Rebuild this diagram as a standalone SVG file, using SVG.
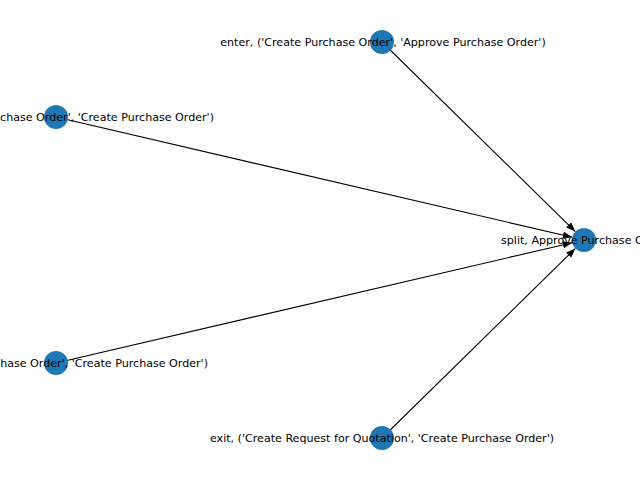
<svg xmlns="http://www.w3.org/2000/svg" width="640" height="480" viewBox="0 0 640 480">
<defs>
<style>
.edge{stroke:#000;stroke-width:1.1;fill:none;marker-end:url(#ah)}
.node{fill:#1f77b4}
.lbl{font-family:"DejaVu Sans",sans-serif;font-size:11.1px;fill:#000}
</style>
<marker id="ah" markerUnits="userSpaceOnUse" markerWidth="12" markerHeight="10" refX="9.5" refY="3.6" orient="auto">
<path d="M0,0 L9.5,3.6 L0,7.2 Z" fill="#000"/>
</marker>
</defs>
<rect width="640" height="480" fill="#fff"/>
<g id="edges">
<line class="edge" x1="382" y1="42" x2="575.4" y2="231.6"/>
<line class="edge" x1="56" y1="117" x2="572.3" y2="237.3"/>
<line class="edge" x1="56" y1="363" x2="572.3" y2="242.7"/>
<line class="edge" x1="382" y1="438" x2="575.4" y2="248.4"/>
</g>
<g id="n_enter"><circle class="node" cx="382" cy="42" r="12"/><text class="lbl" x="383" y="46" text-anchor="middle">enter, ('Create Purchase Order', 'Approve Purchase Order')</text></g>
<g id="n_left1"><circle class="node" cx="56" cy="117" r="12"/><text class="lbl" x="214" y="121" text-anchor="end">chase Order', 'Create Purchase Order')</text></g>
<g id="n_left2"><circle class="node" cx="56" cy="363" r="12"/><text class="lbl" x="208" y="367" text-anchor="end">hase Order', 'Create Purchase Order')</text></g>
<g id="n_exit"><circle class="node" cx="382" cy="438" r="12"/><text class="lbl" x="382" y="442" text-anchor="middle">exit, ('Create Request for Quotation', 'Create Purchase Order')</text></g>
<g id="n_split"><circle class="node" cx="584" cy="240" r="12"/><text class="lbl" x="501" y="244">split, Approve Purchase O</text></g>
</svg>
